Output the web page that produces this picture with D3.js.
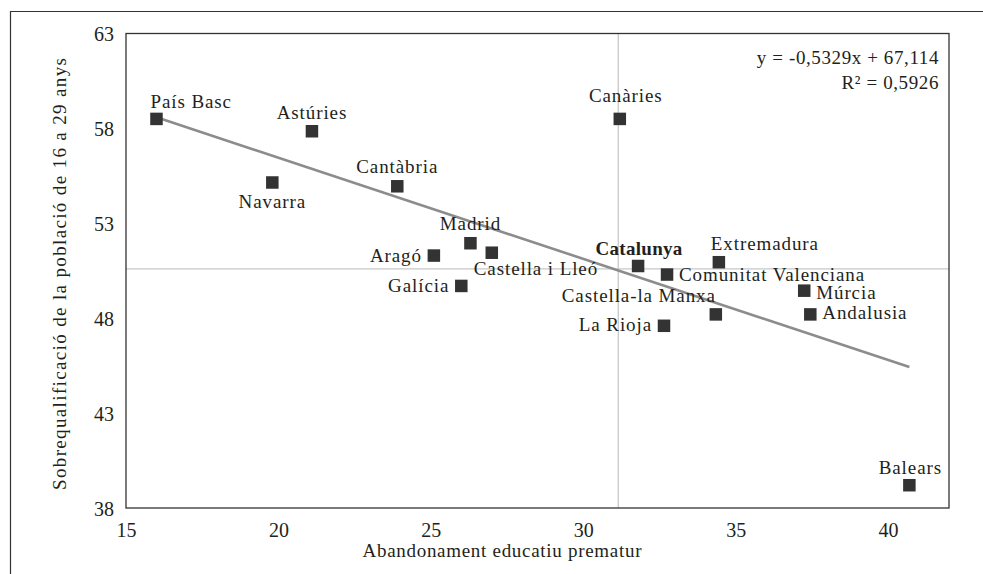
<!DOCTYPE html>
<html>
<head>
<meta charset="utf-8">
<script src="https://cdn.jsdelivr.net/npm/d3@7"></script>
<style>
  body { margin: 0; background: #fff; }
  svg text { font-family: "Liberation Serif", "Times New Roman", serif; fill: #231f20; }
</style>
</head>
<body>
<svg id="chart" width="983" height="574"></svg>
<script>
// data
const regions = ["País Basc", "Astúries", "Navarra", "Cantàbria", "Madrid", "Castella i Lleó",
  "Aragó", "Galícia", "Canàries", "Catalunya", "Comunitat Valenciana", "Extremadura",
  "Castella-la Manxa", "La Rioja", "Múrcia", "Andalusia", "Balears"];
const abandonment = [16.0, 21.1, 19.8, 23.9, 26.3, 27.0, 25.1, 26.0, 31.2, 31.8, 32.75, 34.45,
  34.35, 32.65, 37.25, 37.45, 40.7];
const overqual = [58.5, 57.85, 55.15, 54.95, 51.95, 51.45, 51.3, 49.7, 58.5, 50.75, 50.3, 50.95,
  48.2, 47.6, 49.45, 48.2, 39.2];
const xTicks = [15, 20, 25, 30, 35, 40];
const yTicks = [38, 43, 48, 53, 58, 63];
const meanX = 31.15, meanY = 50.6;
const slope = -0.5329, intercept = 67.114;
const eqLines = ["y = -0,5329x + 67,114", "R² = 0,5926"];

// label placement: [dx, dy, anchor]
const labelPos = {
  "País Basc": [-6, -11, "start"],
  "Astúries": [0, -12, "middle"],
  "Navarra": [0, 26, "middle"],
  "Cantàbria": [0, -13, "middle"],
  "Madrid": [0, -13, "middle"],
  "Castella i Lleó": [-18, 22, "start"],
  "Aragó": [-12, 6, "end"],
  "Galícia": [-12, 6, "end"],
  "Canàries": [6, -17, "middle"],
  "Catalunya": [1, -11, "middle"],
  "Comunitat Valenciana": [12, 6, "start"],
  "Extremadura": [-8, -12, "start"],
  "Castella-la Manxa": [0, -12, "end"],
  "La Rioja": [-12, 5, "end"],
  "Múrcia": [12, 8, "start"],
  "Andalusia": [12, 5, "start"],
  "Balears": [1, -11, "middle"]
};

const svg = d3.select("#chart");
const margin = { left: 126, right: 34, top: 33.5, bottom: 66 };
const width = 983, height = 574;

const x = d3.scaleLinear().domain([15, 42]).range([margin.left, width - margin.right]);
const y = d3.scaleLinear().domain([38, 63]).range([height - margin.bottom, margin.top]);

// outer frame (cropped)
svg.append("path")
  .attr("d", `M10.5,${height + 2} V11.5 H${width + 2}`)
  .attr("fill", "none").attr("stroke", "#333").attr("stroke-width", 1.2);

// reference lines
svg.append("line")
  .attr("x1", x(meanX)).attr("x2", x(meanX))
  .attr("y1", y(63)).attr("y2", y(38))
  .attr("stroke", "#c8c8c8").attr("stroke-width", 1.3);
svg.append("line")
  .attr("x1", x(15)).attr("x2", x(42))
  .attr("y1", y(meanY)).attr("y2", y(meanY))
  .attr("stroke", "#c8c8c8").attr("stroke-width", 1.3);

// plot frame
svg.append("rect")
  .attr("x", x(15)).attr("y", y(63))
  .attr("width", x(42) - x(15)).attr("height", y(38) - y(63))
  .attr("fill", "none").attr("stroke", "#333").attr("stroke-width", 1.3);

// axes
const xAxis = svg.append("g")
  .attr("transform", `translate(0,${y(38)})`)
  .call(d3.axisBottom(x).tickValues(xTicks).tickSize(0).tickPadding(12).tickFormat(d3.format("d")));
const yAxis = svg.append("g")
  .attr("transform", `translate(${x(15)},0)`)
  .call(d3.axisLeft(y).tickValues(yTicks).tickSize(0).tickPadding(12).tickFormat(d3.format("d")));
[xAxis, yAxis].forEach(g => {
  g.select(".domain").remove();
  g.selectAll("text").attr("font-size", 20).attr("fill", "#231f20");
});
xAxis.selectAll("text").attr("dy", "0.85em");
yAxis.selectAll("text").attr("dy", "0.35em");

// axis titles
svg.append("text")
  .attr("x", 502).attr("y", 557)
  .attr("text-anchor", "middle").attr("font-size", 19)
  .attr("textLength", 279).attr("lengthAdjust", "spacing")
  .text("Abandonament educatiu prematur");
svg.append("text")
  .attr("transform", `translate(66,274) rotate(-90)`)
  .attr("text-anchor", "middle").attr("font-size", 19)
  .attr("textLength", 432).attr("lengthAdjust", "spacing")
  .text("Sobrequalificació de la població de 16 a 29 anys");

// trendline
const xMin = d3.min(abandonment), xMax = d3.max(abandonment);
svg.append("line")
  .attr("x1", x(xMin)).attr("y1", y(slope * xMin + intercept))
  .attr("x2", x(xMax)).attr("y2", y(slope * xMax + intercept))
  .attr("stroke", "#8c8c8c").attr("stroke-width", 2.6);

const points = regions.map((name, i) => ({ name, ax: abandonment[i], oq: overqual[i] }));
const size = 12.5;

svg.append("g").selectAll("rect")
  .data(points)
  .join("rect")
  .attr("x", d => x(d.ax) - size / 2)
  .attr("y", d => y(d.oq) - size / 2)
  .attr("width", size).attr("height", size)
  .attr("fill", "#333");

svg.append("g").selectAll("text")
  .data(points)
  .join("text")
  .attr("x", d => x(d.ax) + labelPos[d.name][0])
  .attr("y", d => y(d.oq) + labelPos[d.name][1])
  .attr("text-anchor", d => labelPos[d.name][2])
  .attr("font-size", 19)
  .attr("letter-spacing", d => d.name === "Catalunya" ? 0.3 : 0.9)
  .attr("font-weight", d => d.name === "Catalunya" ? "bold" : "normal")
  .text(d => d.name);

// equation
svg.append("g").selectAll("text")
  .data(eqLines)
  .join("text")
  .attr("x", 939)
  .attr("y", (d, i) => 64 + i * 25)
  .attr("text-anchor", "end")
  .attr("font-size", 19)
  .attr("letter-spacing", 0.6)
  .text(d => d);
</script>
</body>
</html>
